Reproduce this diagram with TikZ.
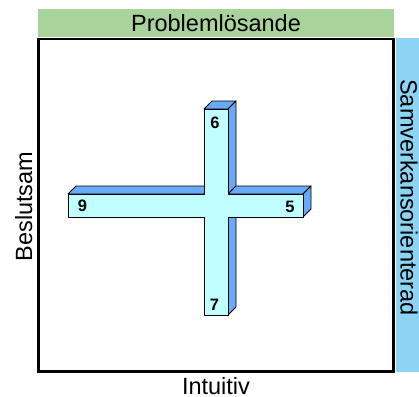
\documentclass[tikz,border=0pt]{standalone}
\usepackage{fontspec}
\setmainfont{Liberation Sans}
\definecolor{barGreen}{HTML}{A8D39A}
\definecolor{barBlue}{HTML}{8CD3F4}
\definecolor{faceFront}{HTML}{C0FFFF}
\definecolor{faceSide}{HTML}{66AAF8}
\begin{document}
\begin{tikzpicture}[x=1pt,y=-1pt,
  lbl/.style={inner sep=0pt,font=\fontsize{23.5}{28}\selectfont},
  num/.style={inner sep=0pt,font=\fontsize{16.5}{20}\selectfont\bfseries},
  side/.style={fill=faceSide,draw=black,line width=0.9pt,line join=round},
  front/.style={fill=faceFront,draw=black,line width=0.9pt,line join=round}]
\useasboundingbox (0,0) rectangle (419,396);
% bars
\fill[barGreen] (38,9) rectangle (394,37.5);
\fill[barBlue] (396,38) rectangle (419,372);
\draw[line width=2.5pt] (38.5,39) rectangle (393.5,371.5);
% cross: side faces
\draw[side] (204,109) -- (212,101) -- (236,101) -- (228,109) -- cycle;
\draw[side] (228,109) -- (236,101) -- (236,186) -- (228,194) -- cycle;
\draw[side] (68,194) -- (76,186) -- (212,186) -- (204,194) -- cycle;
\draw[side] (228,194) -- (236,186) -- (311,186) -- (303,194) -- cycle;
\draw[side] (303,194) -- (311,186) -- (311,209) -- (303,217) -- cycle;
\draw[side] (228,217) -- (236,209) -- (236,307) -- (228,315) -- cycle;
% cross: front face
\draw[front] (204,109) -- (228,109) -- (228,194) -- (303,194) -- (303,217)
  -- (228,217) -- (228,315) -- (204,315) -- (204,217) -- (68,217)
  -- (68,194) -- (204,194) -- cycle;
% numbers
\node[num] (n6) at (215,122.5) {6};
\node[num] (n9) at (82.5,206.3) {9};
\node[num] (n5) at (290,207) {5};
\node[num] (n7) at (214.5,305) {7};
% labels
\node[lbl,anchor=base] (top) at (216,31.5) {Problemlösande};
\node[lbl,anchor=base] (bottom) at (216,394.8) {Intuitiv};
\node[lbl,anchor=base,rotate=90] (left) at (32,206.5) {Beslutsam};
\node[lbl,anchor=base,rotate=-90] (right) at (400.7,197.5) {Samverkansorienterad};
\end{tikzpicture}
\end{document}
